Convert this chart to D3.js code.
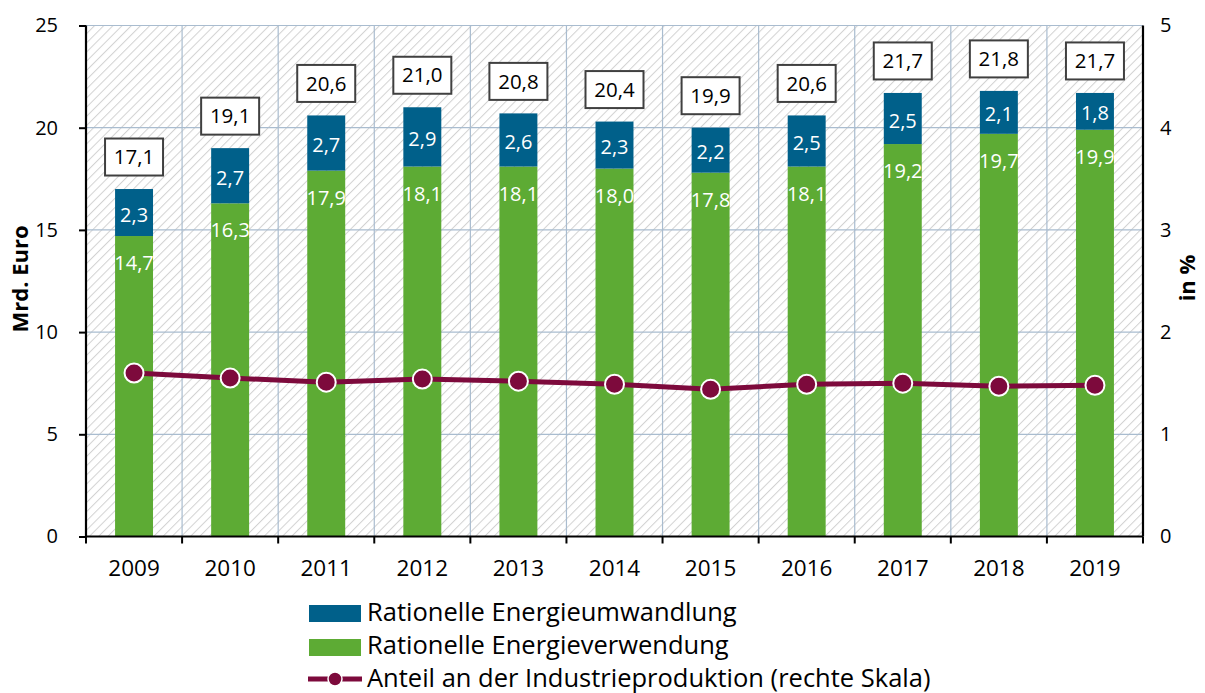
<!DOCTYPE html>
<html><head><meta charset="utf-8">
<script src="https://cdn.jsdelivr.net/npm/d3@7"></script>
<style>body{margin:0;background:#fff}svg{display:block}</style>
</head><body>
<script>
const years = ["2009","2010","2011","2012","2013","2014","2015","2016","2017","2018","2019"];
const verwendung = [14.7,16.3,17.9,18.1,18.1,18.0,17.8,18.1,19.2,19.7,19.9];
const umwandlung = [2.3,2.7,2.7,2.9,2.6,2.3,2.2,2.5,2.5,2.1,1.8];
const totals = [17.1,19.1,20.6,21.0,20.8,20.4,19.9,20.6,21.7,21.8,21.7];
const anteil = [1.60,1.55,1.51,1.54,1.52,1.49,1.44,1.49,1.50,1.47,1.48];
const leftTicks = [0,5,10,15,20,25];
const rightTicks = [0,1,2,3,4,5];

const W=1205,H=693;
const m={l:86,r:1143,t:25.5,b:536.5};
const font="'Open Sans', 'Noto Sans', sans-serif";
const cBlue="#00608a", cGreen="#5dab34", cLine="#7d0a3c";
const fmt=v=>v.toFixed(1).replace(".",",");

const svg=d3.select("body").append("svg").attr("width",W).attr("height",H);
const defs=svg.append("defs");
const pat=defs.append("pattern").attr("id","hatch").attr("patternUnits","userSpaceOnUse")
  .attr("width",6.5).attr("height",6.5).attr("patternTransform","rotate(45)");
pat.append("rect").attr("width",6.5).attr("height",6.5).attr("fill","#fff");
pat.append("line").attr("x1",0).attr("y1",0).attr("x2",0).attr("y2",6.5).attr("stroke","#d2d2d2").attr("stroke-width",2);

const x=d3.scaleBand().domain(years).range([m.l,m.r]).paddingInner(0).paddingOuter(0);
const y=d3.scaleLinear().domain([0,25]).range([m.b,m.t]);
const y2=d3.scaleLinear().domain([0,5]).range([m.b,m.t]);
const bw=x.bandwidth()*0.395;

svg.append("rect").attr("x",m.l).attr("y",m.t).attr("width",m.r-m.l).attr("height",m.b-m.t).attr("fill","url(#hatch)");

// gridlines
const grid=svg.append("g").attr("stroke","#a9bccf").attr("stroke-width",1.2);
leftTicks.filter(d=>d>0).forEach(d=>grid.append("line").attr("x1",m.l).attr("x2",m.r).attr("y1",y(d)).attr("y2",y(d)));
years.slice(1).forEach(d=>grid.append("line").attr("x1",x(d)).attr("x2",x(d)).attr("y1",m.t).attr("y2",m.b));

// bars
const bars=svg.append("g");
years.forEach((yr,i)=>{
  const cx=x(yr)+x.bandwidth()/2;
  bars.append("rect").attr("x",cx-bw/2).attr("width",bw).attr("y",y(verwendung[i])).attr("height",y(0)-y(verwendung[i])).attr("fill",cGreen);
  const top=verwendung[i]+umwandlung[i];
  bars.append("rect").attr("x",cx-bw/2).attr("width",bw).attr("y",y(top)).attr("height",y(verwendung[i])-y(top)).attr("fill",cBlue);
});

// axes
const axL=svg.append("g").attr("transform",`translate(${m.l},0)`)
  .call(d3.axisLeft(y).tickValues(leftTicks).tickSize(7).tickPadding(21).tickFormat(d3.format("d")));
const axR=svg.append("g").attr("transform",`translate(${m.r},0)`)
  .call(d3.axisRight(y2).tickValues(rightTicks).tickSize(0).tickPadding(17).tickFormat(d3.format("d")));
const axB=svg.append("g").attr("transform",`translate(0,${m.b})`)
  .call(d3.axisBottom(x).tickSize(0).tickPadding(24));
const bt=svg.append("g");
years.concat(["end"]).forEach((yr,i)=>{
  const xx = i<years.length ? x(yr) : m.r;
  bt.append("line").attr("x1",xx).attr("x2",xx).attr("y1",m.b).attr("y2",m.b+7).attr("stroke","#000").attr("stroke-width",2);
});
[axL,axR,axB].forEach(a=>{
  a.selectAll("path.domain").attr("stroke","#000").attr("stroke-width",2.2);
  a.selectAll("line").attr("stroke","#000").attr("stroke-width",2);
  a.selectAll("text").attr("font-family",font).attr("font-size",20).attr("fill","#000");
});
axB.selectAll("text").attr("font-size",22.5);
axB.select("path.domain").attr("d",`M${m.l},0H${m.r}`);
axR.select("path.domain").attr("d",`M0,${m.t}V${m.b}`);
axL.select("path.domain").attr("d",`M0,${m.t}V${m.b}`);

// axis titles
svg.append("text").attr("transform",`translate(20,${279}) rotate(-90)`).attr("text-anchor","middle").attr("dy","0.35em")
  .attr("font-family",font).attr("font-size",22).attr("font-weight","bold").text("Mrd. Euro");
svg.append("text").attr("transform",`translate(1187,${278}) rotate(-90)`).attr("text-anchor","middle").attr("dy","0.35em")
  .attr("font-family",font).attr("font-size",22).attr("font-weight","bold").text("in %");

// segment labels
const lbl=svg.append("g").attr("font-family",font).attr("font-size",20).attr("fill","#fff").attr("text-anchor","middle");
years.forEach((yr,i)=>{
  const cx=x(yr)+x.bandwidth()/2;
  const top=verwendung[i]+umwandlung[i];
  lbl.append("text").attr("x",cx).attr("y",(y(top)+y(verwendung[i]))/2+2).attr("dy","0.35em").text(fmt(umwandlung[i]));
  lbl.append("text").attr("x",cx).attr("y",y(verwendung[i])+27).attr("dy","0.35em").text(fmt(verwendung[i]));
});

// total boxes
const tb=svg.append("g");
years.forEach((yr,i)=>{
  const cx=x(yr)+x.bandwidth()/2;
  const top=verwendung[i]+umwandlung[i];
  const cy=y(top)-32;
  tb.append("rect").attr("x",cx-29).attr("y",cy-18.5).attr("width",58).attr("height",37)
    .attr("fill","#fff").attr("stroke","#404040").attr("stroke-width",2);
  tb.append("text").attr("x",cx).attr("y",cy).attr("dy","0.35em").attr("text-anchor","middle")
    .attr("font-family",font).attr("font-size",20.5).attr("fill","#000").text(fmt(totals[i]));
});

// line
const line=d3.line().x((d,i)=>x(years[i])+x.bandwidth()/2).y(d=>y2(d));
svg.append("path").datum(anteil).attr("d",line).attr("fill","none").attr("stroke",cLine).attr("stroke-width",5);
svg.append("g").selectAll("circle").data(anteil).join("circle")
  .attr("cx",(d,i)=>x(years[i])+x.bandwidth()/2).attr("cy",d=>y2(d)).attr("r",9.5)
  .attr("fill",cLine).attr("stroke","#fff").attr("stroke-width",2);

// legend
const lg=svg.append("g").attr("font-family",font).attr("font-size",25.5);
lg.append("rect").attr("x",309).attr("y",605).attr("width",52).attr("height",17).attr("fill",cBlue);
lg.append("text").attr("x",367).attr("y",612).attr("dy","0.35em").text("Rationelle Energieumwandlung");
lg.append("rect").attr("x",309).attr("y",639).attr("width",52).attr("height",17).attr("fill",cGreen);
lg.append("text").attr("x",367).attr("y",645).attr("dy","0.35em").text("Rationelle Energieverwendung");
lg.append("line").attr("x1",308).attr("x2",362).attr("y1",679).attr("y2",679).attr("stroke",cLine).attr("stroke-width",5);
lg.append("circle").attr("cx",335).attr("cy",679).attr("r",7).attr("fill",cLine).attr("stroke","#fff").attr("stroke-width",1.5);
lg.append("text").attr("x",367).attr("y",678).attr("dy","0.35em").text("Anteil an der Industrieproduktion (rechte Skala)");
</script>
</body></html>
